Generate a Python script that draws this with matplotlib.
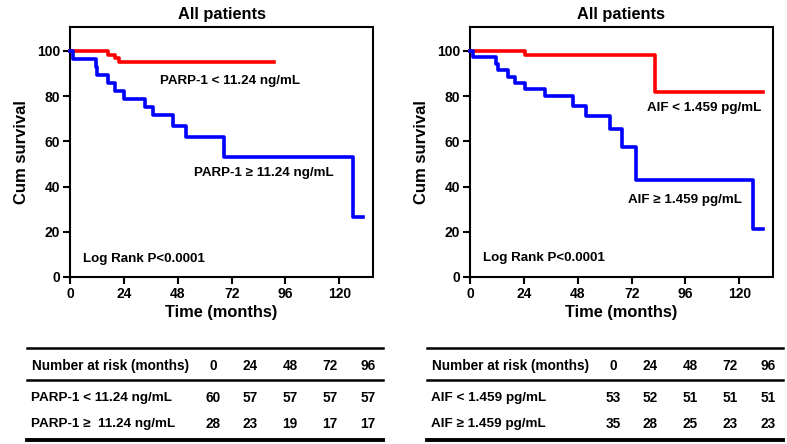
import matplotlib
matplotlib.use("Agg")
import matplotlib.pyplot as plt
from matplotlib.lines import Line2D

plt.rcParams['font.family'] = ['Liberation Sans', 'DejaVu Sans']
plt.rcParams['font.weight'] = 'bold'

# survival curves (months, cum survival %)
parp_low_t = [0, 17, 20, 22, 91]
parp_low_s = [100, 98.3, 96.7, 95.0, 95.0]
parp_high_t = [0, 1.5, 11.4, 12.2, 17.1, 20.1, 24.1, 33.4, 37.1, 45.8, 51.6, 68.6, 126, 130.7]
parp_high_s = [100, 96.4, 92.9, 89.3, 85.7, 82.1, 78.6, 75.0, 71.4, 66.9, 62.0, 53.1, 26.5, 26.5]

aif_low_t = [0, 24.5, 82.4, 130.7]
aif_low_s = [100, 98.1, 81.8, 81.8]
aif_high_t = [0, 1.5, 11.6, 12.6, 17.1, 20.1, 24.5, 33.4, 45.8, 51.7, 62.4, 67.9, 73.8, 126.3, 130.7]
aif_high_s = [100, 97.1, 94.3, 91.4, 88.6, 85.7, 82.9, 80.0, 75.6, 71.1, 65.2, 57.4, 42.7, 21.4, 21.4]

# number at risk tables
risk_times = [0, 24, 48, 72, 96]
parp_labels = ["PARP-1 < 11.24 ng/mL", "PARP-1 \u2265  11.24 ng/mL"]
parp_risk = [[60, 57, 57, 57, 57], [28, 23, 19, 17, 17]]
aif_labels = ["AIF < 1.459 pg/mL", "AIF \u2265 1.459 pg/mL"]
aif_risk = [[53, 52, 51, 51, 51], [35, 28, 25, 23, 23]]

W, H = 787, 444
fig = plt.figure(figsize=(W / 100, H / 100), dpi=100)


def fx(px):
    return px / W


def fy(py):
    return 1 - py / H


def km_panel(x0, curves, labels):
    ax = fig.add_axes([fx(x0), fy(277), fx(303), (277 - 27) / H])
    for t, s, c in curves:
        ax.step(t, s, where='post', color=c, lw=2.6, clip_on=False, zorder=3)
    ax.set_xlim(0, 135)
    ax.set_ylim(0, 110.5)
    ax.set_xticks([0, 24, 48, 72, 96, 120])
    ax.set_yticks([0, 20, 40, 60, 80, 100])
    ax.tick_params(direction='out', length=5, width=1.5, labelsize=10, pad=2)
    for sp in ax.spines.values():
        sp.set_linewidth(1.5)
    ax.set_xlabel("Time (months)", fontsize=11.8, fontweight='bold', labelpad=3)
    ax.set_ylabel("Cum survival", fontsize=12, fontweight='bold', labelpad=6)
    ax.set_title("All patients", fontsize=11.8, fontweight='bold', pad=6)
    for (tx, ty, txt) in labels:
        ax.text(tx, ty, txt, fontsize=9.6, fontweight='bold', va='center', ha='left')
    return ax


km_panel(70, [(parp_low_t, parp_low_s, '#ff0000'), (parp_high_t, parp_high_s, '#0000ff')],
         [(40, 86.6, "PARP-1 < 11.24 ng/mL"), (55.3, 46.0, "PARP-1 \u2265 11.24 ng/mL"),
          (5.6, 8.1, "Log Rank P<0.0001")])
km_panel(470, [(aif_low_t, aif_low_s, '#ff0000'), (aif_high_t, aif_high_s, '#0000ff')],
         [(79.0, 74.5, "AIF < 1.459 pg/mL"), (70.5, 34.2, "AIF \u2265 1.459 pg/mL"),
          (5.8, 8.3, "Log Rank P<0.0001")])


def risk_table(x0, labels, rows):
    for y, lw in [(348, 1.8), (380, 1.8), (440, 2.8)]:
        fig.add_artist(Line2D([fx(x0 + 27), fx(x0 + 383)], [fy(y), fy(y)],
                              color='black', lw=lw))
    fig.text(fx(x0 + 32), fy(366), "Number at risk (months)", fontsize=9.8,
             fontweight='bold', va='center')
    col_x = [213, 250, 290, 330, 368]
    for cx, t in zip(col_x, risk_times):
        fig.text(fx(x0 + cx), fy(366), str(t), fontsize=9.8, fontweight='bold',
                 ha='center', va='center')
    for ry, lab, vals in zip([398, 424], labels, rows):
        fig.text(fx(x0 + 31), fy(ry), lab, fontsize=9.7, fontweight='bold', va='center')
        for cx, v in zip(col_x, vals):
            fig.text(fx(x0 + cx), fy(ry), str(v), fontsize=9.8, fontweight='bold',
                     ha='center', va='center')


risk_table(0, parp_labels, parp_risk)
risk_table(400, aif_labels, aif_risk)

fig.savefig("out.png", dpi=100)
